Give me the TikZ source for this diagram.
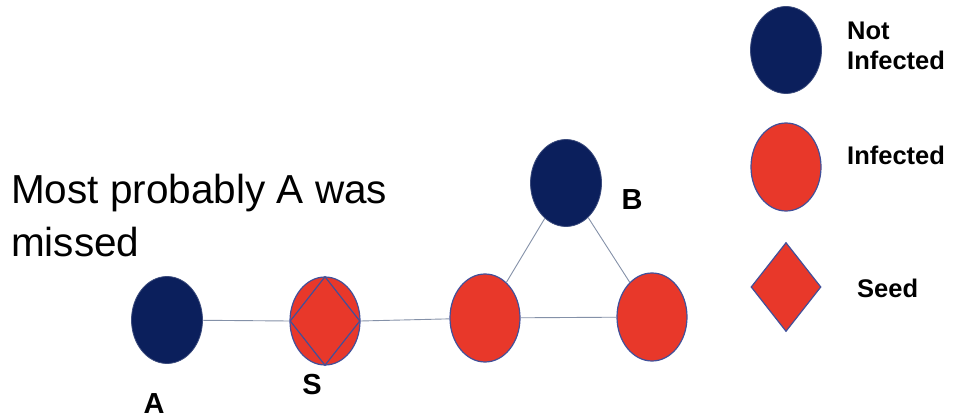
\documentclass[tikz,border=0pt]{standalone}
\usepackage{fontspec}
\setmainfont{Liberation Sans}
\usetikzlibrary{shapes.geometric}
\definecolor{navy}{HTML}{0B1F5C}
\definecolor{infred}{HTML}{E8382A}
\definecolor{rim}{HTML}{41509A}
\definecolor{edgec}{HTML}{8491A8}
\begin{document}
\begin{tikzpicture}[x=1pt,y=-1pt,
  notinf/.style={ellipse,fill=navy,draw=navy!80!white,line width=0.8pt,minimum width=71pt,minimum height=87pt,inner sep=0pt},
  inf/.style={ellipse,fill=infred,draw=rim,line width=1.2pt,minimum width=70pt,minimum height=88pt,inner sep=0pt},
  seedd/.style={diamond,fill=infred,draw=rim,line width=1.2pt,minimum width=70pt,minimum height=89pt,inner sep=0pt,aspect=0.79},
  link/.style={draw=edgec,line width=0.9pt},
  lab/.style={font=\bfseries\fontsize{29}{30}\selectfont,inner sep=0pt},
  leg/.style={font=\bfseries\fontsize{25.5}{30}\selectfont,inner sep=0pt,align=left,anchor=west}]
\useasboundingbox (0,0) rectangle (953,419);
% graph nodes
\node[notinf] (A) at (167,320) {};
\node[inf] (S) at (325,321) {};
\node[seedd] (Sd) at (325,321) {};
\node[inf] (M) at (485,318) {};
\node[inf] (R) at (652,317) {};
\node[notinf] (B) at (566,183) {};
% edges
\draw[link] (A) -- (Sd.west);
\draw[link] (Sd.east) -- (M);
\draw[link] (M) -- (R);
\draw[link] (M) -- (B);
\draw[link] (B) -- (R);
% labels
\node[lab] (lA) at (154,404) {A};
\node[lab] (lS) at (312,385) {S};
\node[lab] (lB) at (632,200) {B};
\node[font=\fontsize{40.5}{53}\selectfont,align=left,anchor=north west,inner sep=0pt] (txt) at (11,174) {Most probably A was\\missed};
% legend
\node[leg] (t1) at (847,46) {Not\\Infected};
\node[leg] (t2) at (847,155) {Infected};
\node[leg] (t3) at (857,288) {Seed};
\node[notinf] (L1) at (786,50) {};
\node[inf] (L2) at (786,167) {};
\node[seedd] (L3) at (786,287) {};
\end{tikzpicture}
\end{document}
